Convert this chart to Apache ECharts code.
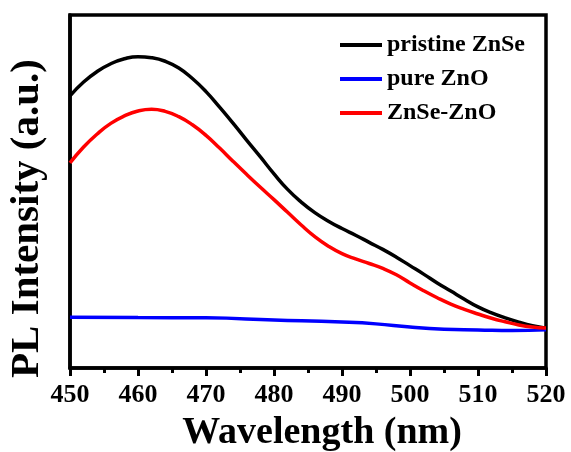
<!DOCTYPE html>
<html>
<head>
<meta charset="utf-8">
<script src="https://cdn.jsdelivr.net/npm/echarts@6/dist/echarts.min.js"></script>
<style>html,body{margin:0;padding:0;background:#fff;}#c{width:571px;height:452px;}</style>
</head>
<body>
<div id="c"></div>
<script>
const wavelengths = [450,452,454,456,458,460,462,464,466,468,470,472,474,476,478,480,482,484,486,488,490,492,494,496,498,500,502,504,506,508,510,512,514,516,518,520];
const pristineZnSe = [77.1,81.0,84.0,86.2,87.6,88.2,87.9,86.9,85.0,82.0,78.3,73.9,69.3,64.5,59.8,55.0,50.6,47.0,44.0,41.6,39.5,37.6,35.6,33.6,31.4,29.0,26.6,24.1,21.8,19.5,17.3,15.6,14.2,13.0,12.0,11.3];
const znseZnO = [58.1,62.6,66.3,69.3,71.4,72.8,73.3,72.7,71.2,68.9,65.9,62.3,58.5,54.8,51.2,47.7,44.1,40.5,37.2,34.5,32.4,30.9,29.6,28.2,26.4,24.1,21.9,19.9,18.1,16.6,15.3,14.1,13.1,12.2,11.6,11.3];
const blueWavelengths = [450,460,470,480,490,495,500,505,510,515,520];
const pureZnO = [14.4,14.3,14.2,13.6,13.0,12.5,11.6,11.0,10.8,10.6,10.8];
const seriesNames = ['pristine ZnSe','pure ZnO','ZnSe-ZnO'];
const xTicks = [450,460,470,480,490,500,510,520];

const pair = (xs, ys) => xs.map((x, i) => [x, ys[i]]);
const font = '"Liberation Serif","Times New Roman",serif';

const chart = echarts.init(document.getElementById('c'), null, {renderer:'canvas'});
chart.setOption({
  animation:false,
  backgroundColor:'#fff',
  grid:{left:70, right:25, top:15, bottom:84, outerBoundsMode:'none', containLabel:false, show:true, borderColor:'#000', borderWidth:3.5, backgroundColor:'transparent'},
  legend:{
    orient:'vertical', left:335, top:28, itemWidth:42, itemHeight:4, itemGap:10, icon:'rect',
    textStyle:{fontFamily:font, fontWeight:'bold', fontSize:24, color:'#000', lineHeight:24},
    data:seriesNames
  },
  xAxis:{
    type:'value', min:xTicks[0], max:xTicks[xTicks.length-1], interval:10,
    name:'Wavelength (nm)', nameLocation:'middle', nameGap:46,
    nameTextStyle:{fontFamily:font, fontWeight:'bold', fontSize:38, color:'#000', padding:[0,0,0,28]},
    axisLine:{show:true, lineStyle:{color:'#000', width:3.5}},
    axisTick:{show:true, inside:false, length:8, lineStyle:{color:'#000', width:3}},
    minorTick:{show:true, splitNumber:2, length:5, lineStyle:{color:'#000', width:3}},
    axisLabel:{fontFamily:font, fontWeight:'bold', fontSize:26, color:'#000', margin:14},
    splitLine:{show:false}
  },
  yAxis:{
    type:'value', min:0, max:100,
    name:'PL Intensity (a.u.)', nameLocation:'middle', nameGap:22,
    nameTextStyle:{fontFamily:font, fontWeight:'bold', fontSize:41, color:'#000', padding:[0,54,0,0]},
    axisLine:{show:true, lineStyle:{color:'#000', width:3.5}},
    axisTick:{show:false}, axisLabel:{show:false}, splitLine:{show:false}
  },
  series:[
    {name:seriesNames[0], type:'line', data:pair(wavelengths, pristineZnSe), smooth:true, showSymbol:false, color:'#000', lineStyle:{width:3.5, color:'#000'}},
    {name:seriesNames[1], type:'line', data:pair(blueWavelengths, pureZnO), smooth:true, showSymbol:false, color:'#0000ff', lineStyle:{width:3.5, color:'#0000ff'}},
    {name:seriesNames[2], type:'line', data:pair(wavelengths, znseZnO), smooth:true, showSymbol:false, color:'#ff0000', lineStyle:{width:3.5, color:'#ff0000'}}
  ]
});
</script>
</body>
</html>
